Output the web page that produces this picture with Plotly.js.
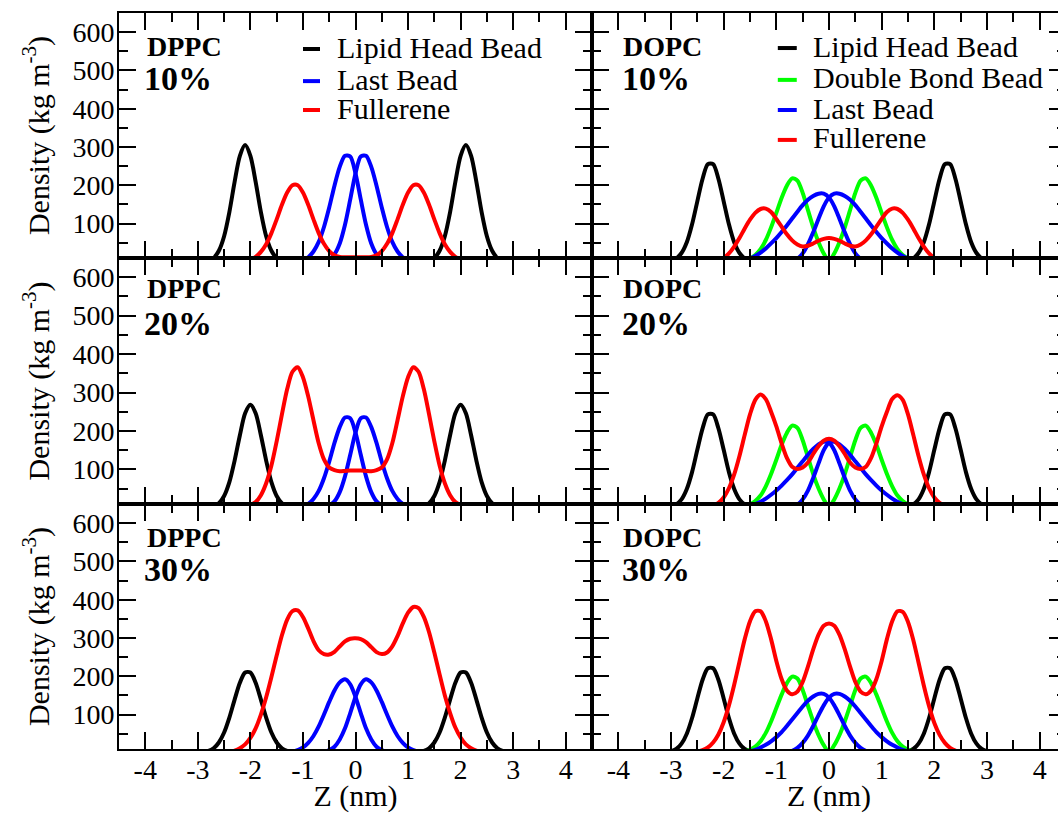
<!DOCTYPE html>
<html><head><meta charset="utf-8">
<script src="https://cdn.plot.ly/plotly-3.0.1.min.js"></script>
<style>html,body{margin:0;padding:0;overflow:hidden;background:#fff;width:1058px;height:813px}#chart{width:1080px;height:813px}</style>
</head><body><div id="chart"></div>
<script>
// Z grid (nm)
const z = [-3.0,-2.9,-2.8,-2.7,-2.6,-2.5,-2.4,-2.3,-2.2,-2.1,
 -2.0,-1.9,-1.8,-1.7,-1.6,-1.5,-1.4,-1.3,-1.2,-1.1,
 -1.0,-0.9,-0.8,-0.7,-0.6,-0.5,-0.4,-0.3,-0.2,-0.1,
 0.0,
 0.1,0.2,0.3,0.4,0.5,0.6,0.7,0.8,0.9,1.0,
 1.1,1.2,1.3,1.4,1.5,1.6,1.7,1.8,1.9,2.0,
 2.1,2.2,2.3,2.4,2.5,2.6,2.7,2.8,2.9,3.0];

const xTicks = [-4,-3,-2,-1,0,1,2,3,4];
const yTicks = [100,200,300,400,500,600];
const lipidNames = ['DPPC','DOPC','DPPC','DOPC','DPPC','DOPC'];
const percentLabels = ['10%','10%','20%','20%','30%','30%'];
const seriesNames = ['Lipid Head Bead','Double Bond Bead','Last Bead','Fullerene'];

// ---- DPPC 10% ----
const head_DPPC10 = [0,0,3,10,29,67,130,209,277,305, 277,209,130,67,29,10,3,0,0,0, 0,0,0,0,0,0,0,0,0,0, 0, 0,0,0,0,0,0,0,0,0,0, 0,0,0,3,10,29,67,130,209,277, 305,277,209,130,67,29,10,3,0,0];
const full_DPPC10 = [0,0,0,0,0,0,0,0,0,2, 6,13,26,46,75,111,149,181,200,200, 181,149,111,75,47,28,17,13,12,12, 12, 12,12,13,17,28,47,75,111,149,181, 200,200,181,149,111,75,46,26,13,6, 2,0,0,0,0,0,0,0,0,0];
const lastA_DPPC10 = [0,0,0,0,0,0,0,0,0,0, 0,0,0,0,0,0,0,0,0,2, 5,12,27,52,91,142,199,248,277,275, 231, 163,97,48,20,7,2,0,0,0,0, 0,0,0,0,0,0,0,0,0,0, 0,0,0,0,0,0,0,0,0,0];
const lastB_DPPC10 = [0,0,0,0,0,0,0,0,0,0, 0,0,0,0,0,0,0,0,0,0, 0,0,0,0,2,7,20,48,97,163, 231, 275,277,248,199,142,91,52,27,12,5, 2,0,0,0,0,0,0,0,0,0, 0,0,0,0,0,0,0,0,0,0];

// ---- DOPC 10% ----
const head_DOPC10 = [3,9,23,51,98,158,217,255,255,217, 158,98,51,23,9,3,1,0,0,0, 0,0,0,0,0,0,0,0,0,0, 0, 0,0,0,0,0,0,0,0,0,0, 0,0,0,1,3,9,23,51,98,158, 217,255,255,217,158,98,51,23,9,3];
const dbl_DOPC10 = [0,0,0,0,0,0,0,0,0,0, 0,0,0,2,4,9,18,33,57,90, 128,167,199,218,212,180,135,90,52,22, 2, 22,52,90,135,180,212,218,199,167,128, 90,57,33,18,9,4,2,0,0,0, 0,0,0,0,0,0,0,0,0,0];
const lastA_DOPC10 = [0,0,0,0,0,0,0,0,0,0, 0,0,0,0,3,9,15,24,35,48, 62,78,95,113,131,148,162,172,178,178, 168, 145,112,77,46,22,8,2,0,0,0, 0,0,0,0,0,0,0,0,0,0, 0,0,0,0,0,0,0,0,0,0];
const lastB_DOPC10 = [0,0,0,0,0,0,0,0,0,0, 0,0,0,0,0,0,0,0,0,0, 0,0,0,2,8,22,46,77,112,145, 168, 178,178,172,162,148,131,113,95,78,62, 48,35,24,15,9,3,0,0,0,0, 0,0,0,0,0,0,0,0,0,0];
const full_DOPC10 = [0,0,0,0,0,0,0,0,0,3, 10,22,40,62,87,110,128,138,139,130, 112,92,72,56,45,40,42,48,55,60, 62, 60,55,48,42,40,45,56,72,92,112, 130,139,138,128,110,87,62,40,22,10, 3,0,0,0,0,0,0,0,0,0];

// ---- DPPC 20% ----
const head_DPPC20 = [0,0,1,4,12,31,67,123,189,246, 268,246,189,123,67,31,12,4,1,0, 0,0,0,0,0,0,0,0,0,0, 0, 0,0,0,0,0,0,0,0,0,0, 0,1,4,12,31,67,123,189,246,268, 246,189,123,67,31,12,4,1,0,0];
const full_DPPC20 = [0,0,0,0,0,0,0,0,1,3, 7,15,33,64,110,173,243,309,354,366, 340,290,228,168,126,105,98,95,96,97, 97, 97,96,95,98,105,126,168,228,290,340, 366,354,309,243,173,110,64,33,15,7, 3,1,0,0,0,0,0,0,0,0];
const lastA_DPPC20 = [0,0,0,0,0,0,0,0,0,0, 0,0,0,0,0,0,0,0,0,2, 4,10,23,44,77,120,169,210,235,233, 196, 138,82,41,17,6,2,0,0,0,0, 0,0,0,0,0,0,0,0,0,0, 0,0,0,0,0,0,0,0,0,0];
const lastB_DPPC20 = [0,0,0,0,0,0,0,0,0,0, 0,0,0,0,0,0,0,0,0,0, 0,0,0,0,2,6,17,41,82,138, 196, 233,235,210,169,120,77,44,23,10,4, 2,0,0,0,0,0,0,0,0,0, 0,0,0,0,0,0,0,0,0,0];

// ---- DOPC 20% ----
const head_DOPC20 = [3,9,22,49,93,151,207,243,243,207, 151,93,49,22,9,3,1,0,0,0, 0,0,0,0,0,0,0,0,0,0, 0, 0,0,0,0,0,0,0,0,0,0, 0,0,0,1,3,9,22,49,93,151, 207,243,243,207,151,93,49,22,9,3];
const dbl_DOPC20 = [0,0,0,0,0,0,0,0,0,0, 0,0,0,2,4,9,18,32,56,88, 125,164,195,214,208,176,132,88,51,22, 2, 22,51,88,132,176,208,214,195,164,125, 88,56,32,18,9,4,2,0,0,0, 0,0,0,0,0,0,0,0,0,0];
const lastA_DOPC20 = [0,0,0,0,0,0,0,0,0,0, 0,0,0,0,2,5,10,16,24,34, 45,58,72,87,104,121,138,153,165,172, 170, 150,115,78,45,22,8,2,0,0,0, 0,0,0,0,0,0,0,0,0,0, 0,0,0,0,0,0,0,0,0,0];
const lastB_DOPC20 = [0,0,0,0,0,0,0,0,0,0, 0,0,0,0,0,0,0,0,0,0, 0,0,0,2,8,22,45,78,115,150, 170, 172,165,153,138,121,104,87,72,58,45, 34,24,16,10,5,2,0,0,0,0, 0,0,0,0,0,0,0,0,0,0];
const full_DOPC20 = [0,0,0,0,0,0,0,2,6,13, 27,51,87,135,190,243,281,295,283,250, 212,168,130,107,101,105,118,140,160,175, 180, 175,160,140,118,105,101,107,130,168,212, 250,283,293,281,243,190,135,87,51,27, 13,6,2,0,0,0,0,0,0,0];

// ---- DPPC 30% ----
const head_DPPC30 = [0,2,5,12,27,53,92,139,183,210, 210,183,139,92,53,27,12,5,2,0, 0,0,0,0,0,0,0,0,0,0, 0, 0,0,0,0,0,0,0,0,0,0, 0,2,5,12,27,53,92,139,183,210, 210,183,139,92,53,27,12,5,2,0];
const full_DPPC30 = [0,0,0,0,0,0,3,6,12,22, 39,64,100,145,198,254,307,348,370,372, 355,325,292,268,258,257,264,278,291,298, 299, 297,289,276,263,258,262,278,305,338,366, 381,378,355,315,262,205,150,104,66,40, 22,12,6,3,0,0,0,0,0,0];
const lastA_DPPC30 = [0,0,0,0,0,0,0,0,0,0, 0,0,0,0,0,0,0,1,3,7, 14,26,44,69,100,133,163,184,192,179, 146, 104,64,35,16,7,2,0,0,0,0, 0,0,0,0,0,0,0,0,0,0, 0,0,0,0,0,0,0,0,0,0];
const lastB_DPPC30 = [0,0,0,0,0,0,0,0,0,0, 0,0,0,0,0,0,0,0,0,0, 0,0,0,0,2,7,16,35,64,104, 146, 179,192,184,163,133,100,69,44,26,14, 7,3,1,0,0,0,0,0,0,0, 0,0,0,0,0,0,0,0,0,0];

// ---- DOPC 30% ----
const head_DOPC30 = [4,10,24,50,91,142,191,221,221,191, 142,91,50,24,10,4,1,0,0,0, 0,0,0,0,0,0,0,0,0,0, 0, 0,0,0,0,0,0,0,0,0,0, 0,0,0,1,4,10,24,50,91,142, 191,221,221,191,142,91,50,24,10,4];
const dbl_DOPC30 = [0,0,0,0,0,0,0,0,0,0, 0,0,0,2,4,8,16,30,52,82, 117,152,182,199,194,164,123,82,47,20, 2, 20,47,82,123,164,194,199,182,152,117, 82,52,30,16,8,4,2,0,0,0, 0,0,0,0,0,0,0,0,0,0];
const lastA_DOPC30 = [0,0,0,0,0,0,0,0,0,0, 0,0,0,0,1,4,8,14,21,30, 41,54,70,87,104,121,136,147,154,154, 144, 124,98,70,45,26,13,5,1,0,0, 0,0,0,0,0,0,0,0,0,0, 0,0,0,0,0,0,0,0,0,0];
const lastB_DOPC30 = [0,0,0,0,0,0,0,0,0,0, 0,0,0,0,0,0,0,0,0,0, 0,0,1,5,13,26,45,70,98,124, 144, 154,154,147,136,121,104,87,70,54,41, 30,21,14,8,4,1,0,0,0,0, 0,0,0,0,0,0,0,0,0,0];
const full_DOPC30 = [0,0,0,0,0,3,7,14,27,48, 80,124,178,238,297,344,370,370,344,297, 240,193,163,153,160,185,225,270,308,332, 338, 332,308,270,225,185,160,153,163,193,240, 297,344,370,368,342,295,236,176,122,78, 47,26,13,6,2,0,0,0,0,0];

// panels: row-major (top-left, top-right, mid-left, ...)
const panels = [
  {head: head_DPPC10, dbl: null,       last: [lastA_DPPC10, lastB_DPPC10], full: full_DPPC10},
  {head: head_DOPC10, dbl: dbl_DOPC10, last: [lastA_DOPC10, lastB_DOPC10], full: full_DOPC10},
  {head: head_DPPC20, dbl: null,       last: [lastA_DPPC20, lastB_DPPC20], full: full_DPPC20},
  {head: head_DOPC20, dbl: dbl_DOPC20, last: [lastA_DOPC20, lastB_DOPC20], full: full_DOPC20},
  {head: head_DPPC30, dbl: null,       last: [lastA_DPPC30, lastB_DPPC30], full: full_DPPC30},
  {head: head_DOPC30, dbl: dbl_DOPC30, last: [lastA_DOPC30, lastB_DOPC30], full: full_DOPC30}
];

const COLORS = {head: '#000000', dbl: '#00ff00', last: '#0000ff', full: '#ff0000'};
const FONT = 'Liberation Serif';
const W = 1080, H = 813;
const xDom = [[119/W, 592/W], [592/W, 1066/W]];
const yDom = [[1-258/H, 1-13/H], [1-504/H, 1-258/H], [1-749/H, 1-504/H]];
const nameY = [0.862, 0.876, 0.862];
const pctY = [0.733, 0.732, 0.733];

const traces = [];
const layout = {
  width: W, height: H, autosize: false,
  margin: {l: 0, r: 0, t: 0, b: 0, pad: 0},
  paper_bgcolor: '#fff', plot_bgcolor: 'rgba(0,0,0,0)',
  font: {family: FONT, color: '#000'},
  showlegend: false,
  annotations: [], shapes: []
};

panels.forEach((p, i) => {
  const k = i + 1;
  const row = Math.floor(i / 2), col = i % 2;
  const xa = 'x' + (k === 1 ? '' : k), ya = 'y' + (k === 1 ? '' : k);
  const add = (y, color) => traces.push({
    x: z, y: y, xaxis: xa, yaxis: ya, type: 'scatter', mode: 'lines',
    line: {color: color, width: 4, shape: 'spline', smoothing: 0.8},
    hoverinfo: 'skip', showlegend: false
  });
  add(p.head, COLORS.head);
  if (p.dbl) add(p.dbl, COLORS.dbl);
  add(p.last[0], COLORS.last);
  add(p.last[1], COLORS.last);
  add(p.full, COLORS.full);

  const common = {
    showline: true, linewidth: 2, linecolor: '#000', mirror: 'ticks',
    ticks: 'inside', ticklen: 17, tickwidth: 2, tickcolor: '#000',
    showgrid: false, zeroline: false, fixedrange: true
  };
  const xax = Object.assign({}, common, {
    domain: xDom[col], anchor: ya, range: [-4.5, 4.5],
    tickmode: 'array', tickvals: xTicks, ticktext: xTicks.map(String),
    showticklabels: row === 2,
    tickfont: {family: FONT, size: 28, color: '#000'},
    ticklabelstandoff: -6,
    minor: {dtick: 0.5, tick0: 0, ticks: 'inside', ticklen: 9, tickwidth: 2, tickcolor: '#000'}
  });
  if (row === 2) xax.title = {text: 'Z (nm)', font: {family: FONT, size: 30, color: '#000'}, standoff: 10};
  layout['xaxis' + (k === 1 ? '' : k)] = xax;

  const yax = Object.assign({}, common, {
    domain: yDom[row], anchor: xa, range: [10, 650],
    tickmode: 'array', tickvals: yTicks, ticktext: yTicks.map(String),
    showticklabels: col === 0,
    tickfont: {family: FONT, size: 28, color: '#000'},
    ticklabelstandoff: -3,
    minor: {dtick: 50, tick0: 0, ticks: 'inside', ticklen: 9, tickwidth: 2, tickcolor: '#000'}
  });
  if (col === 0) yax.title = {text: 'Density (kg m<sup>-3</sup>)', font: {family: FONT, size: 30, color: '#000'}, standoff: 14};
  layout['yaxis' + (k === 1 ? '' : k)] = yax;

  layout.annotations.push({
    xref: xa + ' domain', yref: ya + ' domain', x: col === 0 ? 0.055 : 0.061, y: nameY[row],
    xanchor: 'left', yanchor: 'middle', showarrow: false,
    text: '<b>' + lipidNames[i] + '</b>', font: {family: FONT, size: 28, color: '#000'}
  });
  layout.annotations.push({
    xref: xa + ' domain', yref: ya + ' domain', x: col === 0 ? 0.048 : 0.059, y: pctY[row],
    xanchor: 'left', yanchor: 'middle', showarrow: false,
    text: '<b>' + percentLabels[i] + '</b>', font: {family: FONT, size: 34, color: '#000'}
  });
});

// manual legends (top row)
function legendItem(xa, ya, x0, x1, xt, y, color, name) {
  layout.shapes.push({type: 'line', xref: xa + ' domain', yref: ya + ' domain',
    x0: x0, x1: x1, y0: y, y1: y, line: {color: color, width: 4}});
  layout.annotations.push({xref: xa + ' domain', yref: ya + ' domain', x: xt, y: y + 0.008,
    xanchor: 'left', yanchor: 'middle', showarrow: false, text: name,
    font: {family: FONT, size: 30, color: '#000'}});
}
legendItem('x', 'y', 0.389, 0.425, 0.457, 0.853, COLORS.head, seriesNames[0]);
legendItem('x', 'y', 0.389, 0.425, 0.457, 0.722, COLORS.last, seriesNames[2]);
legendItem('x', 'y', 0.389, 0.425, 0.457, 0.604, COLORS.full, seriesNames[3]);
legendItem('x2', 'y2', 0.392, 0.432, 0.462, 0.857, COLORS.head, seriesNames[0]);
legendItem('x2', 'y2', 0.392, 0.432, 0.462, 0.727, COLORS.dbl, seriesNames[1]);
legendItem('x2', 'y2', 0.392, 0.432, 0.462, 0.604, COLORS.last, seriesNames[2]);
legendItem('x2', 'y2', 0.392, 0.432, 0.462, 0.482, COLORS.full, seriesNames[3]);

Plotly.newPlot('chart', traces, layout, {staticPlot: true, displayModeBar: false});
</script>
</body></html>
